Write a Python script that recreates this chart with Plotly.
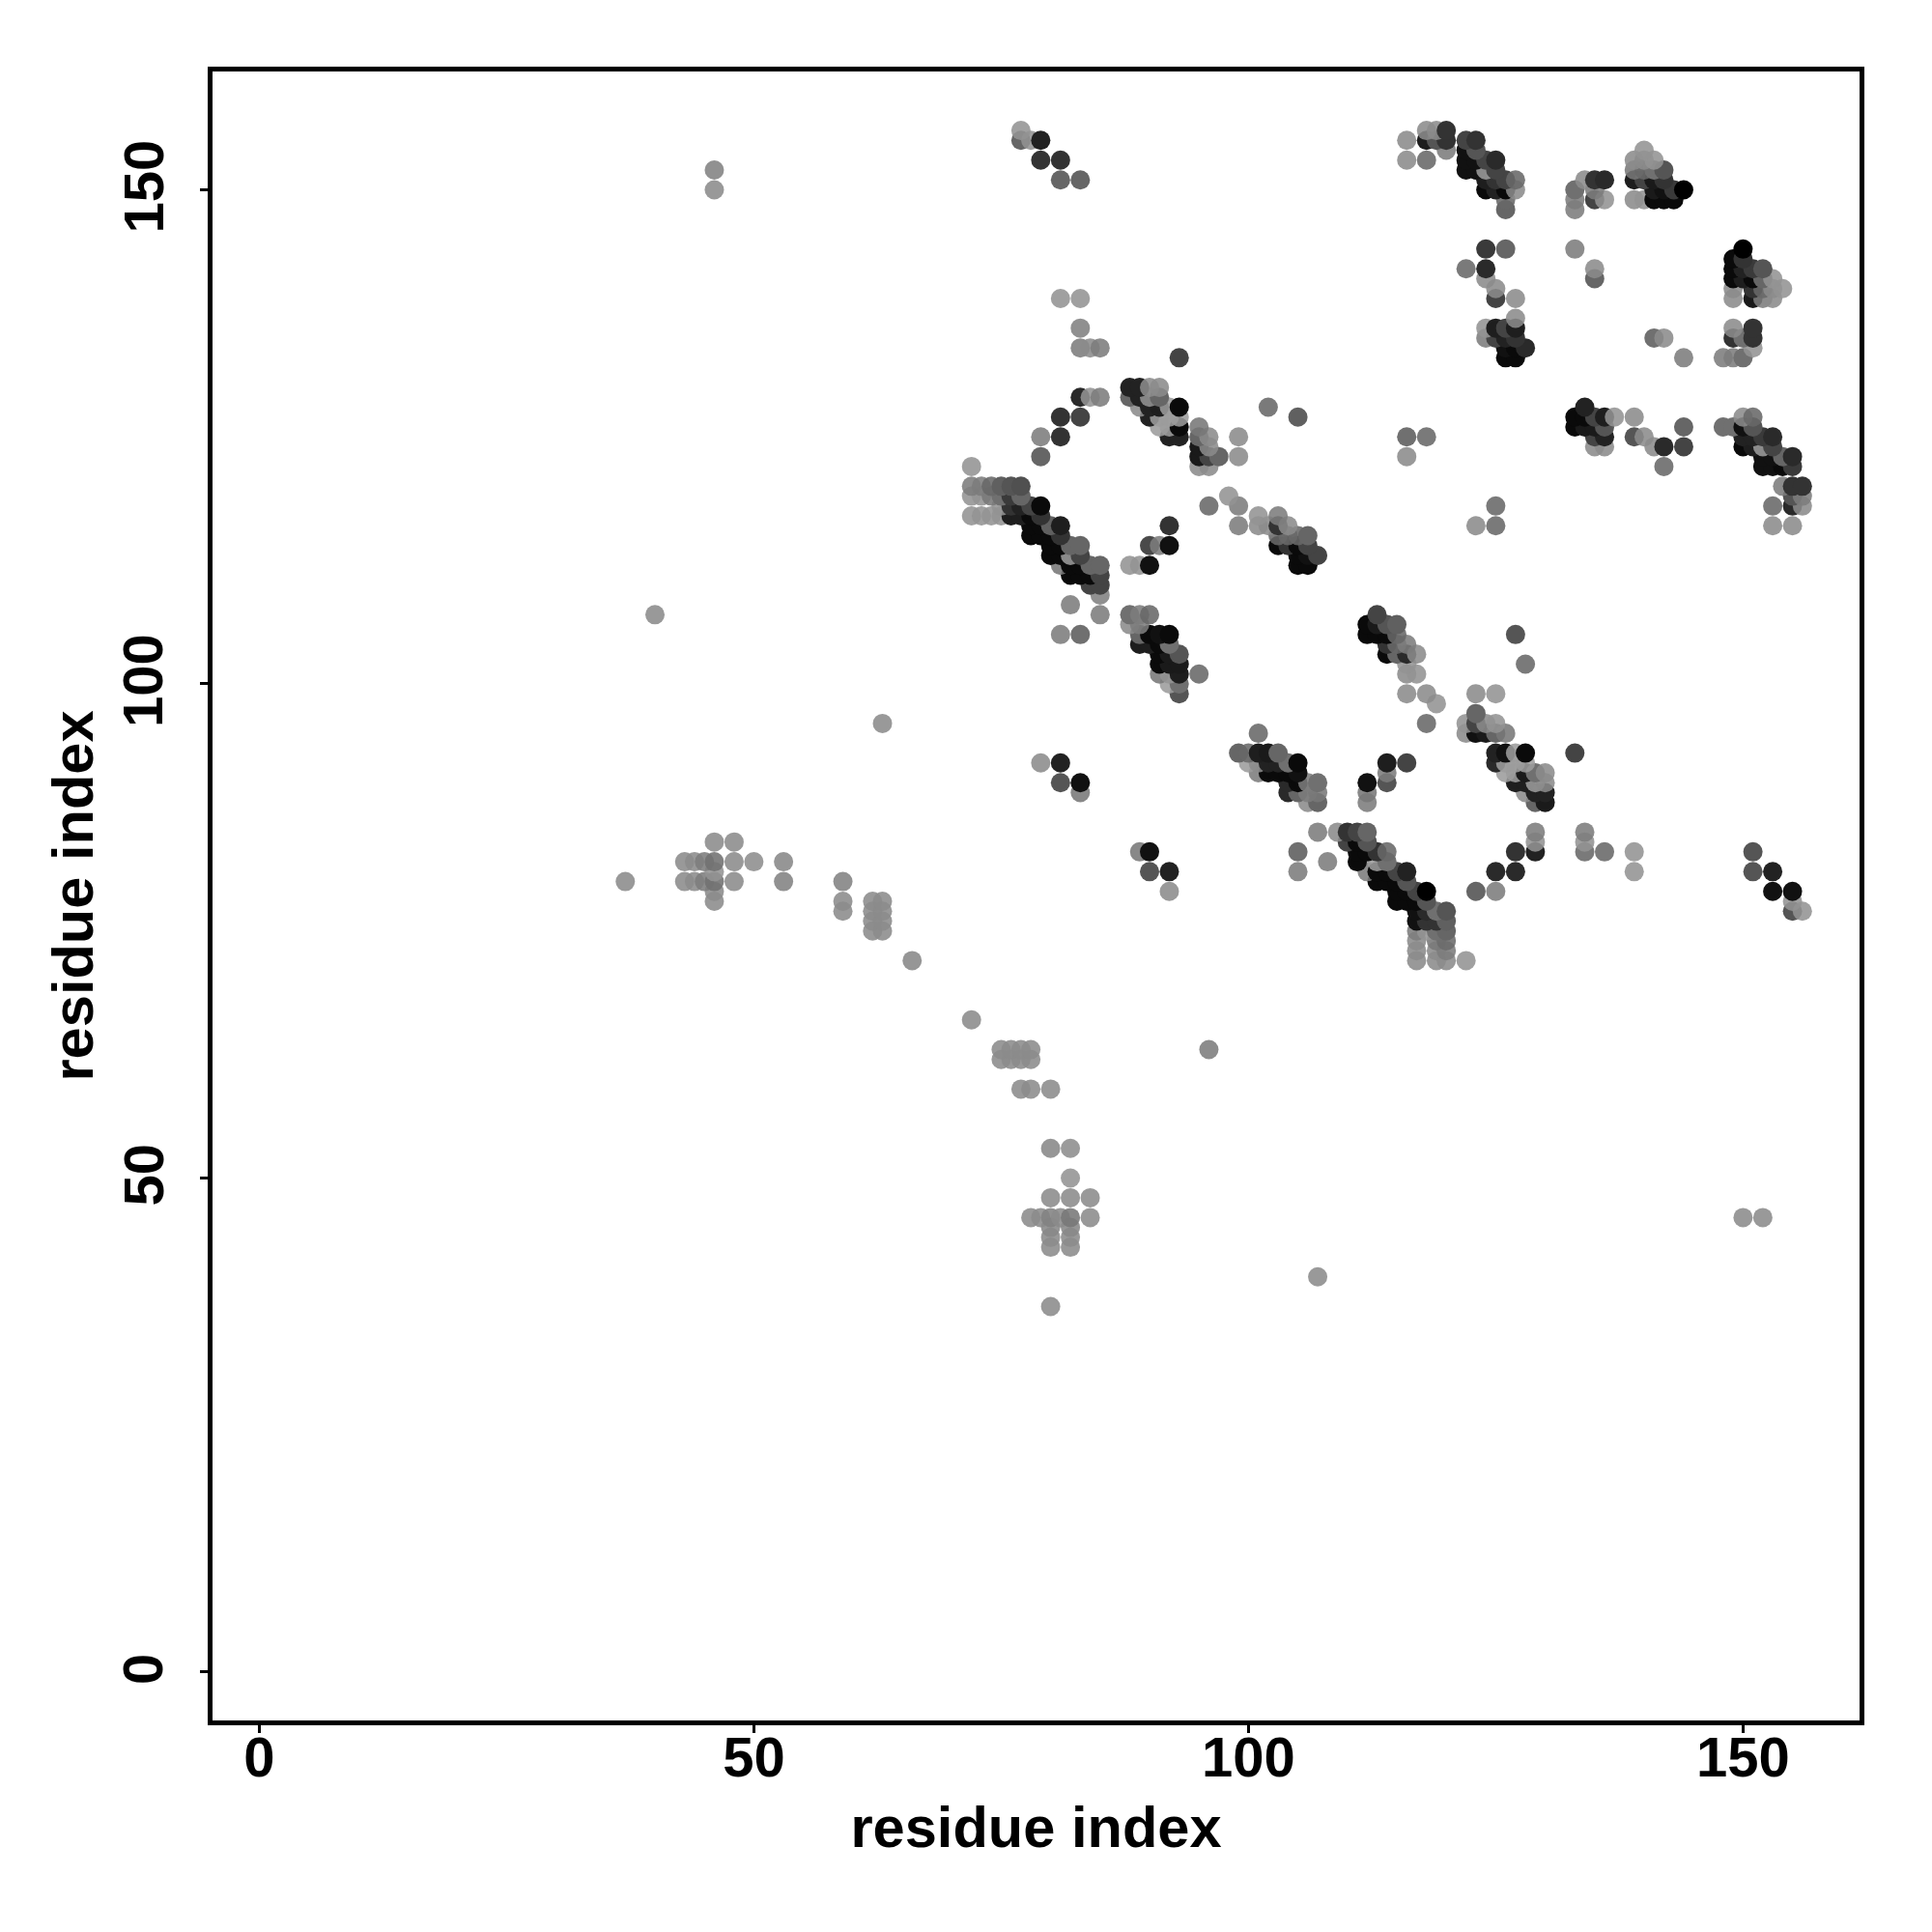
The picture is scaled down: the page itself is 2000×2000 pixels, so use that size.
import plotly.graph_objects as go

res_x = [
80,
107,
80,82,
80,82,
80,82,
78,79,80,81,82,84,150,152,
80,82,84,
82,
80,82,
77,78,80,
75,76,77,78,
75,76,77,78,96,
72,
66,117,119,120,122,
117,119,120,
117,119,120,
62,63,117,118,119,120,
62,63,117,118,119,120,
59,62,63,117,118,119,120,155,156,
46,59,62,63,115,116,117,118,155,
46,92,115,116,117,118,123,125,153,155,
37,43,44,45,46,48,53,59,113,114,115,116,
46,90,92,105,112,113,114,115,116,125,127,139,151,153,
43,44,45,46,48,50,53,108,111,113,114,
89,90,105,111,112,113,114,127,129,134,136,139,151,
46,48,110,111,112,129,134,
107,109,110,111,112,129,134,
106,107,112,129,130,
83,104,105,106,107,112,128,129,130,
81,83,104,105,106,107,112,114,127,128,129,130,
101,102,103,104,105,114,126,127,128,129,130,
79,81,100,101,102,103,104,105,114,116,125,126,127,128,
99,100,101,102,103,125,126,127,128,133,
101,122,123,124,125,126,
63,118,122,123,124,125,
123,
119,
93,116,118,123,125,
92,93,
91,92,93,95,116,117,
91,92,93,116,128,
91,92,93,114,115,116,117,
89,90,91,92,114,115,116,
81,83,89,90,91,92,112,113,114,115,127,
88,89,112,113,114,115,
40,85,88,89,90,113,
82,
85,
84,85,
82,83,84,85,
81,82,83,84,85,88,89,90,105,106,
80,81,82,83,105,106,107,
80,81,82,83,90,91,92,103,104,105,106,
78,79,80,81,103,104,105,106,
78,79,80,81,92,99,101,102,103,104,123,125,153,155,
72,73,74,75,76,77,78,79,101,103,
75,76,77,78,79,96,99,125,153,155,156,
72,73,74,75,76,77,98,155,156,
72,73,74,75,76,77,154,155,156,
72,95,96,142,152,153,154,155,
79,95,96,97,99,116,152,153,154,155,
95,96,135,136,141,142,144,150,151,152,153,
79,81,92,93,95,96,99,116,118,135,136,139,140,150,151,152,153,
91,92,93,95,133,134,135,136,144,148,149,150,151,
81,83,90,91,92,93,105,133,134,135,136,137,139,150,151,
89,90,91,92,93,102,134,
83,84,85,88,89,90,91,
88,89,90,91,
93,126,127,144,148,149,150,
83,84,85,126,127,128,151,
124,125,126,127,141,142,149,150,151,
83,124,125,126,127,149,151,
127,
81,83,125,127,149,151,152,153,
125,149,151,152,153,154,
124,135,149,150,151,152,153,
122,124,135,149,150,151,152,
149,150,
124,126,133,150,
126,133,
126,133,135,136,139,140,141,142,143,
46,124,125,126,127,133,135,141,142,143,144,
81,83,124,125,126,127,134,135,136,139,140,141,142,
46,122,123,124,125,139,140,141,142,
79,81,116,118,122,123,124,125,139,140,141,
120,122,123,140,
77,78,79,116,118,119,120,122,123,
77,118,119,120,
]

res_y = [
37,
40,
43,43,
44,44,
45,45,
46,46,46,46,46,46,46,46,
48,48,48,
50,
53,53,
59,59,59,
62,62,62,62,
63,63,63,63,63,
66,
72,72,72,72,72,
73,73,73,
74,74,74,
75,75,75,75,75,75,
76,76,76,76,76,76,
77,77,77,77,77,77,77,77,77,
78,78,78,78,78,78,78,78,78,
79,79,79,79,79,79,79,79,79,79,
80,80,80,80,80,80,80,80,80,80,80,80,
81,81,81,81,81,81,81,81,81,81,81,81,81,81,
82,82,82,82,82,82,82,82,82,82,82,
83,83,83,83,83,83,83,83,83,83,83,83,83,
84,84,84,84,84,84,84,
85,85,85,85,85,85,85,
88,88,88,88,88,
89,89,89,89,89,89,89,89,89,
90,90,90,90,90,90,90,90,90,90,90,90,
91,91,91,91,91,91,91,91,91,91,91,
92,92,92,92,92,92,92,92,92,92,92,92,92,92,
93,93,93,93,93,93,93,93,93,93,
95,95,95,95,95,95,
96,96,96,96,96,96,
97,
98,
99,99,99,99,99,
100,100,
101,101,101,101,101,101,
102,102,102,102,102,
103,103,103,103,103,103,103,
104,104,104,104,104,104,104,
105,105,105,105,105,105,105,105,105,105,105,
106,106,106,106,106,106,
107,107,107,107,107,107,
108,
109,
110,110,
111,111,111,111,
112,112,112,112,112,112,112,112,112,112,
113,113,113,113,113,113,113,
114,114,114,114,114,114,114,114,114,114,114,
115,115,115,115,115,115,115,115,
116,116,116,116,116,116,116,116,116,116,116,116,116,116,
117,117,117,117,117,117,117,117,117,117,
118,118,118,118,118,118,118,118,118,118,118,
119,119,119,119,119,119,119,119,119,
120,120,120,120,120,120,120,120,120,
122,122,122,122,122,122,122,122,
123,123,123,123,123,123,123,123,123,123,
124,124,124,124,124,124,124,124,124,124,124,
125,125,125,125,125,125,125,125,125,125,125,125,125,125,125,125,125,
126,126,126,126,126,126,126,126,126,126,126,126,126,
127,127,127,127,127,127,127,127,127,127,127,127,127,127,127,
128,128,128,128,128,128,128,
129,129,129,129,129,129,129,
130,130,130,130,
133,133,133,133,133,133,133,
134,134,134,134,134,134,134,
135,135,135,135,135,135,135,135,135,
136,136,136,136,136,136,136,
137,
139,139,139,139,139,139,139,139,
140,140,140,140,140,140,
141,141,141,141,141,141,141,
142,142,142,142,142,142,142,
143,143,
144,144,144,144,
148,148,
149,149,149,149,149,149,149,149,149,
150,150,150,150,150,150,150,150,150,150,150,
151,151,151,151,151,151,151,151,151,151,151,151,151,
152,152,152,152,152,152,152,152,152,
153,153,153,153,153,153,153,153,153,153,153,
154,154,154,154,
155,155,155,155,155,155,155,155,155,
156,156,156,156,
]

shade = [
153,
153,
153,153,
153,153,
150,150,
153,153,145,153,135,153,153,153,
153,153,153,
160,
150,155,
153,153,153,
153,153,153,153,
153,153,153,153,140,
153,
150,153,153,153,160,
153,153,140,
153,136,125,
153,153,140,160,112,102,
153,153,17,51,51,96,
153,153,153,17,42,112,85,85,160,
153,153,153,153,10,10,10,85,160,
153,153,10,10,68,0,102,140,17,17,
153,153,153,140,130,153,145,145,10,10,10,85,
160,85,34,140,140,10,10,68,34,42,42,160,85,34,
153,153,140,130,153,155,150,140,10,168,112,
136,17,112,10,10,51,122,51,34,122,122,160,85,
153,153,68,10,85,160,160,
140,153,51,68,102,140,140,
153,102,140,102,26,
136,42,102,140,136,136,153,34,34,
85,17,42,10,140,112,17,85,30,30,168,153,
140,10,10,10,17,140,168,168,26,112,153,
153,34,168,153,34,34,112,10,30,68,42,168,168,168,
102,122,30,26,102,34,17,168,10,68,
122,153,17,26,102,136,
153,122,160,68,153,160,
102,
160,
85,153,153,153,160,
168,112,
136,160,30,122,153,160,
10,26,26,160,122,
10,26,85,10,102,42,153,
30,30,10,112,51,122,140,
140,112,102,10,17,10,10,10,10,122,85,
153,140,10,26,85,96,
153,140,112,140,122,68,
140,
144,
68,68,
10,10,10,68,
136,10,10,102,102,160,160,17,10,10,
10,10,168,68,10,17,68,
10,10,102,102,74,140,17,10,51,10,68,
10,10,10,51,122,122,122,102,
10,10,96,30,51,140,153,153,51,153,153,122,153,153,
160,160,160,160,30,30,10,51,160,140,
160,51,34,68,10,122,140,122,122,42,153,
160,160,136,112,58,102,160,85,140,
140,140,122,96,85,80,140,51,51,
160,153,153,122,17,17,10,58,
102,26,68,102,153,153,17,17,102,42,
26,153,153,153,153,42,68,10,30,168,68,
140,51,34,34,102,153,153,112,122,68,34,85,153,34,34,58,42,
168,168,10,136,10,26,26,85,102,112,112,17,85,
51,68,34,168,168,168,96,10,10,68,30,160,153,153,122,
153,34,30,168,10,122,34,
42,160,140,102,34,160,102,
34,34,153,153,
68,10,10,140,140,140,112,
140,153,140,17,10,42,160,
140,68,34,51,112,153,51,112,51,
144,160,30,68,30,153,51,
153,
160,160,68,153,153,26,140,153,
153,153,51,122,153,160,
153,102,10,30,10,102,160,
122,42,153,10,34,58,85,
10,51,
58,102,140,0,
102,140,
122,140,68,160,153,160,10,10,10,
153,10,34,10,153,112,140,26,17,58,0,
102,102,30,51,68,122,153,51,42,30,68,26,51,
145,17,17,168,68,136,122,112,85,
51,51,153,122,17,17,68,42,153,153,160,
140,17,85,160,
102,160,34,153,30,85,51,68,51,
160,153,153,51,
]

assert len(res_x) == len(res_y) == len(shade)

x_ticks = [0, 50, 100, 150]
y_ticks = [0, 50, 100, 150]
axis_title = "residue index"

order = sorted(range(len(res_x)), key=lambda k: (res_y[k], res_x[k]))


def colour(g):
    a = 1.0 if g <= 112 else 0.88
    c = max(0, round((g - 255 * (1 - a)) / a))
    return f"rgba({c},{c},{c},{a})"


fig = go.Figure(go.Scatter(
    x=[res_x[k] for k in order],
    y=[res_y[k] for k in order],
    mode="markers",
    marker=dict(size=20, color=[colour(shade[k]) for k in order], line=dict(width=0)),
    showlegend=False,
    hoverinfo="skip",
))

FONT = "Liberation Sans"
LABEL = dict(family=FONT, size=58, color="black", weight="bold")
TITLE = dict(family=FONT, size=59.6, color="black", weight="bold")
axis = dict(
    showgrid=False, zeroline=False, showline=True, mirror=True,
    linecolor="black", linewidth=5,
    ticks="outside", ticklen=8, tickwidth=3, tickcolor="black",
    automargin=False,
)
fig.update_xaxes(range=[-4.73, 161.78], tickvals=x_ticks, ticktext=[str(t) for t in x_ticks],
                 tickfont=LABEL, ticklabelstandoff=-25,
                 title=dict(text=axis_title, standoff=22, font=TITLE), **axis)
fig.update_yaxes(range=[-4.89, 161.97], tickvals=y_ticks, showticklabels=False,
                 title=dict(text=axis_title, standoff=93, font=TITLE), **axis)
for t in y_ticks:
    fig.add_annotation(x=0, xref="paper", y=t, yref="y", text=str(t), showarrow=False,
                       textangle=-90, font=LABEL, xanchor="center", yanchor="middle",
                       xshift=-72, yshift=3)
fig.update_layout(
    width=2000, height=2000,
    margin=dict(l=219.5, r=75, t=74, b=219, pad=0),
    paper_bgcolor="white", plot_bgcolor="white",
)
fig.write_html("out.html", post_script="document.body.style.margin='0';",
               config=dict(displayModeBar=False))
